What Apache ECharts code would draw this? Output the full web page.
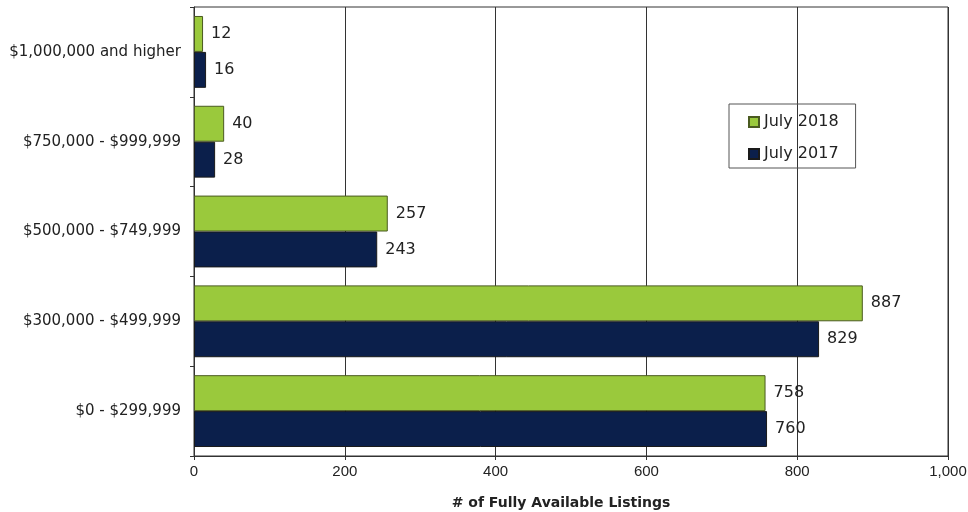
<!DOCTYPE html>
<html>
<head>
  <meta charset="utf-8">
  <title></title>
  <script src="https://cdn.jsdelivr.net/npm/echarts@6/dist/echarts.min.js"></script>
  <style>
    body { margin: 0; background: #fff; }
    #main { width: 968px; height: 512px; }
  </style>
</head>
<body>
  <div id="main"></div>
  <script>
    var categories = ['$0 - $299,999', '$300,000 - $499,999', '$500,000 - $749,999', '$750,000 - $999,999', '$1,000,000 and higher'];
    var july2018 = [758, 887, 257, 40, 12];
    var july2017 = [760, 829, 243, 28, 16];
    var xTicks = { min: 0, max: 1000, interval: 200 };

    var myChart = echarts.init(document.getElementById('main'));

    var labelStyle = {
      show: true,
      position: 'right',
      distance: 8,
      fontFamily: 'DejaVu Sans',
      fontSize: 16,
      color: '#222'
    };

    var option = {
      animation: false,
      textStyle: { fontFamily: 'Liberation Sans' },
      grid: {
        left: 194, right: 20, top: 7, bottom: 56,
        outerBoundsMode: 'none',
        containLabel: false,
        show: true, borderColor: '#333', borderWidth: 1
      },
      legend: {
        orient: 'vertical',
        left: 729, top: 104,
        padding: [10, 17, 6, 19],
        itemGap: 16,
        itemWidth: 10, itemHeight: 10,
        icon: 'rect',
        borderColor: '#555', borderWidth: 1,
        data: ['July 2018', 'July 2017'],
        textStyle: { fontSize: 16, color: '#222', fontFamily: 'DejaVu Sans' }
      },
      xAxis: {
        type: 'value',
        min: xTicks.min, max: xTicks.max, interval: xTicks.interval,
        name: '# of Fully Available Listings',
        nameLocation: 'middle',
        nameGap: 40,
        nameTextStyle: {
          fontSize: 14, fontWeight: 'bold', color: '#222', fontFamily: 'DejaVu Sans',
          padding: [0, 20, 0, 0]
        },
        axisLine: { show: true, lineStyle: { color: '#333' } },
        axisTick: { show: true, length: 4, lineStyle: { color: '#333' } },
        axisLabel: {
          fontSize: 15, color: '#222', margin: 8, fontFamily: 'Liberation Sans',
          formatter: function (v) { return v.toLocaleString('en-US'); }
        },
        splitLine: { show: true, lineStyle: { color: '#333', width: 1 } }
      },
      yAxis: {
        type: 'category',
        data: categories,
        axisLine: { show: true, lineStyle: { color: '#333' } },
        axisTick: { show: true, length: 4, lineStyle: { color: '#333' } },
        axisLabel: { fontSize: 15, color: '#222', margin: 13, fontFamily: 'DejaVu Sans' }
      },
      series: [{
        name: 'July 2018',
        type: 'bar',
        data: july2018,
        barGap: '0%',
        barCategoryGap: '20%',
        itemStyle: { color: '#9ac93c', borderColor: '#4a5a20', borderWidth: 1 },
        label: labelStyle
      }, {
        name: 'July 2017',
        type: 'bar',
        data: july2017,
        barGap: '0%',
        barCategoryGap: '20%',
        itemStyle: { color: '#0b1f4b', borderColor: '#1a1a1a', borderWidth: 1 },
        label: labelStyle
      }]
    };
    myChart.setOption(option);
  </script>
</body>
</html>
